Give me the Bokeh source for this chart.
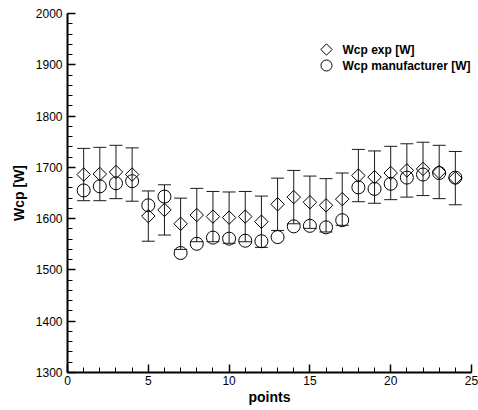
import numpy as np
from bokeh.plotting import figure
from bokeh.models import ColumnDataSource, Range1d, SingleIntervalTicker, Whisker, TeeHead
from bokeh.embed import file_html
from bokeh.resources import INLINE

# Measurement points
points = list(range(1, 25))

# Experimental Wcp [W] and its uncertainty (+/-)
wcp_exp = [1686, 1687, 1691, 1686, 1605, 1617, 1590, 1607, 1604, 1602, 1604, 1594,
           1628, 1642, 1632, 1626, 1638, 1684, 1681, 1689, 1694, 1697, 1691, 1679]
wcp_err = [51, 52, 52, 52, 49, 49, 50, 52, 49, 50, 49, 50,
           51, 52, 51, 52, 51, 51, 51, 52, 52, 52, 52, 52]

# Manufacturer Wcp [W]
wcp_man = [1655, 1663, 1669, 1673, 1626, 1643, 1533, 1551, 1563, 1561, 1557, 1556,
           1564, 1585, 1586, 1583, 1597, 1661, 1658, 1668, 1680, 1686, 1689, 1680]

series_labels = ["Wcp exp [W]", "Wcp manufacturer [W]"]

FONT = "Liberation Sans"
FRAME_W, FRAME_H = 404, 359

src = ColumnDataSource(data=dict(
    x=points,
    exp=wcp_exp,
    man=wcp_man,
    upper=[v + e for v, e in zip(wcp_exp, wcp_err)],
    lower=[v - e for v, e in zip(wcp_exp, wcp_err)],
))

p = figure(width=478, height=410, output_backend="svg", toolbar_location=None,
           x_range=Range1d(0, 25), y_range=Range1d(1300, 2000),
           min_border_left=67, min_border_right=7, min_border_top=13, min_border_bottom=38)
p.outline_line_color = None
p.xgrid.visible = False
p.ygrid.visible = False
p.background_fill_color = "white"

# Error bars on the experimental values
whisk = Whisker(source=src, base="x", upper="upper", lower="lower", dimension="height",
                line_color="#1a1a1a", line_width=1,
                upper_head=TeeHead(size=13, line_color="#1a1a1a", line_width=1),
                lower_head=TeeHead(size=13, line_color="#1a1a1a", line_width=1))
p.add_layout(whisk)

# Open diamonds (rotated squares) and open circles
diamond_style = dict(marker="square", angle=np.pi / 4, fill_color=None,
                     line_color="black", line_width=1)
circle_style = dict(marker="circle", fill_color=None, line_color="black", line_width=1)

p.scatter("x", "exp", source=src, size=9.5, **diamond_style)
p.scatter("x", "man", source=src, size=13, **circle_style)

# Key box laid out in pixel units measured from the top-left of the plot frame
p.extra_x_ranges = {"key_x": Range1d(0, FRAME_W)}
p.extra_y_ranges = {"key_y": Range1d(FRAME_H, 0)}
key_x, key_y0, key_dy, key_gap = 259, 36, 16, 16

key_rows = [key_y0 + i * key_dy for i in range(len(series_labels))]
p.scatter(x=[key_x], y=[key_rows[0]], size=8, x_range_name="key_x",
          y_range_name="key_y", **diamond_style)
p.scatter(x=[key_x], y=[key_rows[1]], size=11, x_range_name="key_x",
          y_range_name="key_y", **circle_style)
p.text(x=[key_x + key_gap] * len(series_labels), y=key_rows, text=series_labels,
       x_range_name="key_x", y_range_name="key_y",
       text_font={"value": FONT}, text_font_style="bold", text_font_size="12px",
       text_color="black", text_baseline="middle", text_align="left")

for ax in (p.xaxis[0], p.yaxis[0]):
    ax.axis_line_width = 2
    ax.axis_line_color = "black"
    ax.major_tick_in = 8
    ax.major_tick_out = 0
    ax.minor_tick_in = 5
    ax.minor_tick_out = 0
    ax.major_tick_line_width = 1.5
    ax.minor_tick_line_width = 1
    ax.major_tick_line_color = "black"
    ax.minor_tick_line_color = "black"
    ax.major_label_text_font = FONT
    ax.major_label_text_font_size = "12px"
    ax.major_label_text_color = "black"
    ax.axis_label_text_font = FONT
    ax.axis_label_text_font_style = "bold"
    ax.axis_label_text_font_size = "14px"
    ax.axis_label_text_color = "black"

p.xaxis.ticker = SingleIntervalTicker(interval=5, num_minor_ticks=5)
p.yaxis.ticker = SingleIntervalTicker(interval=100, num_minor_ticks=5)
p.xaxis.axis_label = "points"
p.yaxis.axis_label = "Wcp [W]"
p.xaxis.major_label_standoff = 3
p.xaxis.axis_label_standoff = 1
p.yaxis.major_label_standoff = 5
p.yaxis.axis_label_standoff = 6

open("out.html", "w").write(file_html(p, INLINE))
